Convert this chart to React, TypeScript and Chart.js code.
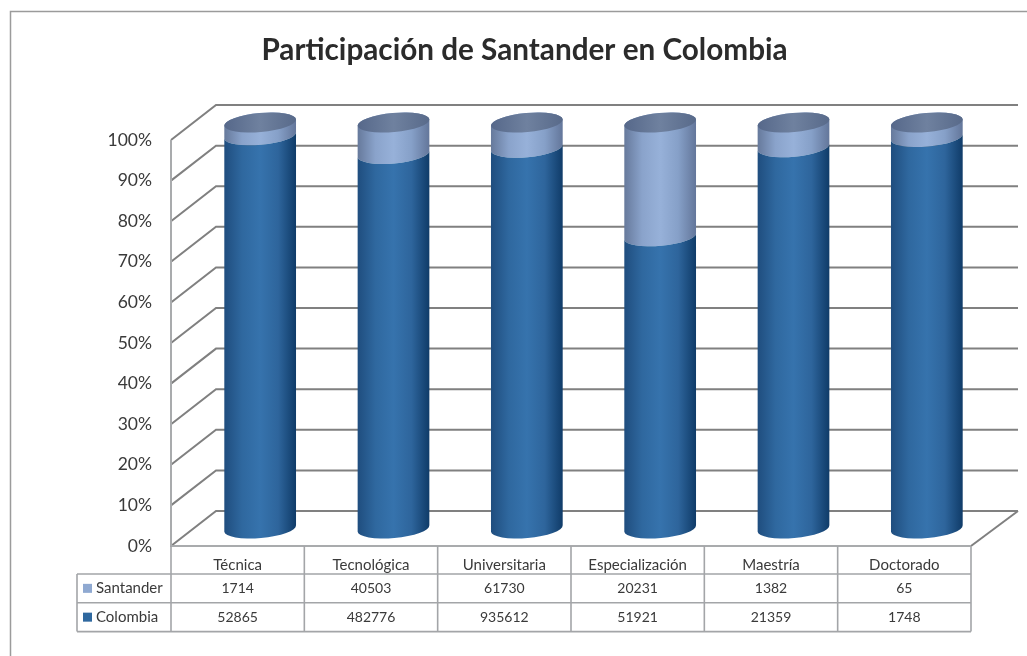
import React, { useEffect, useRef } from "react";
import Chart from "chart.js/auto";
import { BarController, BarElement } from "chart.js";

const chartTitle = "Participación de Santander en Colombia";
const categories = ["Técnica", "Tecnológica", "Universitaria", "Especialización", "Maestría", "Doctorado"];
const santander = [1714, 40503, 61730, 20231, 1382, 65];
const colombia = [52865, 482776, 935612, 51921, 21359, 1748];

const colombiaShare = colombia.map((v, i) => (100 * v) / (v + santander[i]));
const santanderShare = santander.map((v, i) => (100 * v) / (v + colombia[i]));

const FONT = "Lato";
const DEPTH_X = 45;
const DEPTH_Y = 35;
const BAR_W = 72;
const RY = 9.5;
const TILT = -0.09;
const ROW_Y = [28, 56.7, 85.6];
const TABLE_LEFT = 77;
const GRID_LINE = "#808080";
const TABLE_LINE = "#a3a5a8";
const TEXT = "#3a3a3a";
const COLOMBIA_SWATCH = "#2f689f";
const SANTANDER_SWATCH = "#8fa9d1";
const COLOMBIA_STOPS = ["#1f4d7e", "#2f689f", "#3673ad", "#2e659c", "#0f3b68"];
const SANTANDER_STOPS = ["#66799b", "#8aa3cb", "#97b1d9", "#86a0c8", "#63769a"];

class CylinderElement extends BarElement {
  static id = "cylinderSegment";
  draw(ctx: CanvasRenderingContext2D) {
    const { x, y, base, width } = (this as any).getProps(["x", "y", "base", "width"]);
    const rx = width / 2;
    const dataset = (this as any).sourceDataset ?? {};
    const isTop = dataset.topFace;
    const stops: string[] = dataset.shades ?? [];
    ctx.save();
    ctx.translate(DEPTH_X / 2, -DEPTH_Y / 2);
    const fill = ctx.createLinearGradient(x - rx, 0, x + rx, 0);
    stops.forEach((c, i) => fill.addColorStop(i / (stops.length - 1), c));
    ctx.beginPath();
    ctx.ellipse(x, base, rx, RY, TILT, 0, Math.PI);
    if (isTop) ctx.ellipse(x, y, rx, RY, TILT, Math.PI, Math.PI * 2);
    else ctx.ellipse(x, y, rx, RY, TILT, Math.PI, 0, true);
    ctx.closePath();
    ctx.fillStyle = fill;
    ctx.fill();
    if (isTop) {
      const g = ctx.createLinearGradient(x - rx, 0, x + rx, 0);
      g.addColorStop(0, "#56688a");
      g.addColorStop(0.5, "#6f819f");
      g.addColorStop(1, "#586a8a");
      ctx.beginPath();
      ctx.ellipse(x, y, rx, RY, TILT, 0, Math.PI * 2);
      ctx.fillStyle = g;
      ctx.fill();
    }
    ctx.restore();
  }
}

class CylinderController extends BarController {
  static id = "cylinderBar";
  static defaults = { ...(BarController as any).defaults, dataElementType: "cylinderSegment" };
  static overrides = (BarController as any).overrides;
  draw() {
    const dataset = (this as any).getDataset();
    (this as any).getMeta().data.forEach((el: any) => {
      el.sourceDataset = dataset;
    });
    super.draw();
  }
}

Chart.register(CylinderElement as any, CylinderController as any);

const framePlugin = {
  id: "frame",
  beforeDraw(chart: any) {
    const { ctx, width, height } = chart;
    ctx.save();
    ctx.fillStyle = "#ffffff";
    ctx.fillRect(0, 0, width, height);
    ctx.strokeStyle = "#9b9b9b";
    ctx.lineWidth = 1.5;
    ctx.beginPath();
    ctx.moveTo(10.5, height);
    ctx.lineTo(10.5, 11.5);
    ctx.lineTo(width, 11.5);
    ctx.stroke();
    ctx.restore();
  },
};

const wallsPlugin = {
  id: "walls",
  beforeDatasetsDraw(chart: any) {
    const { ctx, chartArea, scales } = chart;
    const { left, right, bottom, top } = chartArea;
    ctx.save();
    ctx.lineWidth = 2;
    ctx.strokeStyle = GRID_LINE;
    scales.y.ticks.forEach((t: any) => {
      const py = scales.y.getPixelForValue(t.value);
      ctx.beginPath();
      ctx.moveTo(left, py);
      ctx.lineTo(left + DEPTH_X, py - DEPTH_Y);
      ctx.lineTo(right + DEPTH_X + 2, py - DEPTH_Y);
      ctx.stroke();
    });
    ctx.beginPath();
    ctx.moveTo(right, bottom);
    ctx.lineTo(right + DEPTH_X + 2, bottom - DEPTH_Y);
    ctx.stroke();
    ctx.strokeStyle = "#a9abad";
    ctx.lineWidth = 2;
    ctx.beginPath();
    ctx.moveTo(left, top);
    ctx.lineTo(left, bottom);
    ctx.lineTo(right, bottom);
    ctx.stroke();
    ctx.restore();
  },
};

const tablePlugin = {
  id: "dataTable",
  afterDraw(chart: any) {
    const { ctx, chartArea } = chart;
    const { left, right, bottom } = chartArea;
    const colW = (right - left) / categories.length;
    const rows = ROW_Y.map((d) => bottom + d);
    ctx.save();
    ctx.strokeStyle = TABLE_LINE;
    ctx.lineWidth = 1.6;
    ctx.beginPath();
    for (let i = 0; i <= categories.length; i++) {
      ctx.moveTo(left + i * colW, bottom);
      ctx.lineTo(left + i * colW, rows[2]);
    }
    ctx.moveTo(TABLE_LEFT, rows[0]);
    ctx.lineTo(TABLE_LEFT, rows[2]);
    rows.forEach((r) => {
      ctx.moveTo(TABLE_LEFT, r);
      ctx.lineTo(right, r);
    });
    ctx.stroke();
    ctx.font = `14px ${FONT}`;
    ctx.textBaseline = "middle";
    ctx.fillStyle = TEXT;
    ctx.textAlign = "center";
    [santander, colombia].forEach((vals, r) => {
      const cy = (rows[r] + rows[r + 1]) / 2 + 0.5;
      vals.forEach((v, i) => ctx.fillText(String(v), left + (i + 0.5) * colW, cy));
    });
    ctx.font = `15px ${FONT}`;
    [
      { label: "Santander", swatch: SANTANDER_SWATCH },
      { label: "Colombia", swatch: COLOMBIA_SWATCH },
    ].forEach((row, r) => {
      const cy = (rows[r] + rows[r + 1]) / 2;
      ctx.fillStyle = row.swatch;
      ctx.fillRect(83, cy - 4.5, 9, 9);
      ctx.fillStyle = TEXT;
      ctx.textAlign = "left";
      ctx.fillText(row.label, 96, cy);
    });
    ctx.restore();
  },
};

export default function App() {
  const ref = useRef<HTMLCanvasElement | null>(null);
  useEffect(() => {
    const chart = new Chart(ref.current as HTMLCanvasElement, {
      type: "cylinderBar" as any,
      data: {
        labels: categories,
        datasets: [
          {
            label: "Colombia",
            data: colombiaShare,
            backgroundColor: COLOMBIA_SWATCH,
            shades: COLOMBIA_STOPS,
            barThickness: BAR_W,
            clip: false,
          } as any,
          {
            label: "Santander",
            data: santanderShare,
            backgroundColor: SANTANDER_SWATCH,
            shades: SANTANDER_STOPS,
            barThickness: BAR_W,
            topFace: true,
            clip: false,
          } as any,
        ],
      },
      options: {
        responsive: false,
        animation: false,
        layout: { padding: { left: 78, right: 56, top: 0, bottom: 0 } },
        plugins: {
          legend: { display: false },
          tooltip: { enabled: false },
          title: {
            display: true,
            text: chartTitle,
            color: "#2b2b2b",
            font: { family: FONT, size: 29.7, weight: "bold", lineHeight: 1.2 },
            padding: { top: 33, bottom: 71.4 },
          },
        },
        scales: {
          x: {
            type: "category",
            offset: true,
            stacked: true,
            grid: { display: false },
            border: { display: false },
            ticks: { color: TEXT, font: { family: FONT, size: 15 }, padding: 2, maxRotation: 0, autoSkip: false },
            afterFit(s: any) {
              s.height = 110;
            },
          },
          y: {
            type: "linear",
            stacked: true,
            min: 0,
            max: 100,
            grid: { display: false },
            border: { display: false },
            ticks: {
              stepSize: 10,
              color: TEXT,
              font: { family: FONT, size: 17.5 },
              padding: 11,
              callback: (v: any) => `${v}%`,
            },
            afterFit(s: any) {
              s.width = 93;
            },
          },
        },
      } as any,
      plugins: [framePlugin, wallsPlugin, tablePlugin],
    });
    return () => chart.destroy();
  }, []);
  return (
    <canvas
      ref={ref}
      width={1027}
      height={656}
      style={{ position: "fixed", left: 0, top: 0, width: 1027, height: 656, display: "block" }}
    />
  );
}
